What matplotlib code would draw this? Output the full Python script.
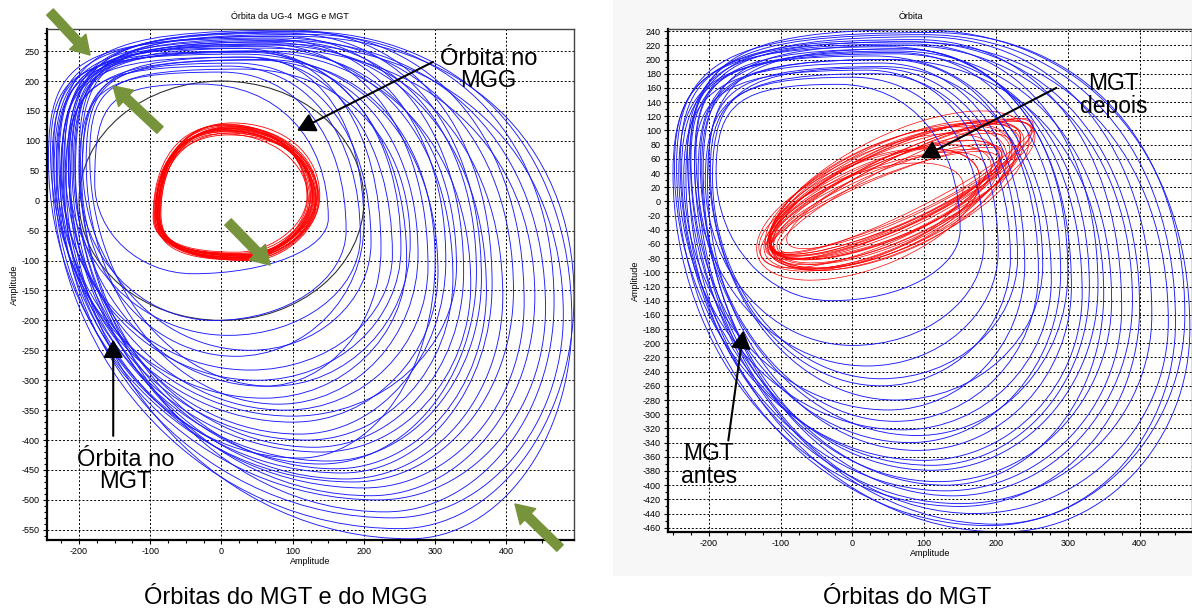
import matplotlib
matplotlib.use("Agg")
import matplotlib.pyplot as plt
from matplotlib.path import Path
from matplotlib.patches import PathPatch, Ellipse, Circle, Rectangle, FancyArrowPatch
from matplotlib.ticker import MultipleLocator

plt.rcParams['font.family'] = ['Liberation Sans', 'DejaVu Sans']
plt.rcParams['axes.unicode_minus'] = False

# ---- data (amplitude units) ----
# each loop: (left x, y at left, x at top, top y, right x, y at right, x at bottom, bottom y)
mgt_loops_left = [
    (-178, 30, -30, 195, 150, -30, -40, -122),
    (-200, 40, 0, 215, 175, -50, -10, -200),
    (-215, 50, 10, 225, 195, -60, 10, -225),
    (-195, 60, 20, 230, 210, -70, 40, -250),
    (-225, 45, 30, 240, 240, -90, 40, -283),
    (-208, 55, 40, 250, 224, -80, 60, -310),
    (-232, 35, 20, 255, 260, -100, 60, -330),
    (-190, 65, 50, 235, 276, -90, 80, -340),
    (-220, 70, 60, 262, 290, -110, 90, -350),
    (-240, 80, 30, 245, 304, -120, 100, -370),
    (-212, 40, 70, 270, 315, -100, 110, -390),
    (-228, 60, 50, 258, 325, -130, 120, -400),
    (-205, 50, 80, 275, 340, -120, 130, -412),
    (-236, 75, 40, 250, 350, -140, 140, -420),
    (-218, 30, 90, 280, 365, -130, 150, -435),
    (-198, 55, 60, 265, 372, -150, 160, -448),
    (-230, 45, 100, 285, 380, -140, 170, -455),
    (-215, 65, 70, 260, 395, -160, 175, -465),
    (-243, 70, 80, 272, 410, -150, 185, -470),
    (-222, 40, 110, 282, 425, -170, 200, -480),
    (-210, 60, 60, 255, 440, -160, 210, -493),
    (-235, 50, 90, 268, 455, -180, 220, -500),
    (-200, 70, 120, 278, 467, -170, 230, -520),
    (-226, 35, 80, 262, 480, -190, 240, -530),
    (-238, 55, 100, 275, 495, -160, 250, -548),
    (-214, 45, 110, 283, 492, -200, 265, -565),
    (-185, 75, 30, 220, 265, -70, 70, -310),
    (-196, 35, 40, 240, 200, -40, 20, -260),
    (-232, 65, 70, 250, 330, -110, 100, -360),
    (-220, 20, 60, 236, 300, -100, 110, -430),
    (-224, 50, 40, 248, 252, -80, 50, -300),
    (-206, 60, 90, 266, 358, -120, 140, -440),
]
mgg_loops_left = [
    (-95, -25, 5, 118, 128, 5, 30, -92),
    (-92, -20, 10, 125, 135, 10, 35, -96),
    (-90, -30, 0, 112, 122, 0, 25, -88),
    (-88, -15, 15, 130, 138, 8, 40, -100),
    (-93, -22, 8, 120, 130, 3, 28, -94),
    (-86, -28, 12, 122, 126, 12, 33, -90),
    (-91, -18, 3, 115, 133, -2, 38, -98),
    (-89, -24, 6, 128, 120, 6, 22, -86),
    (-94, -26, 10, 110, 136, 4, 30, -95),
    (-87, -20, 0, 118, 125, 9, 36, -93),
    (-90, -32, 14, 124, 131, 1, 27, -99),
    (-92, -16, 7, 116, 127, 7, 32, -91),
    (-85, -22, 9, 121, 134, 11, 24, -97),
    (-96, -28, 2, 126, 124, -1, 39, -89),
    (-88, -25, 11, 113, 129, 5, 31, -94),
    (-91, -19, 5, 119, 137, 2, 29, -96),
    (-89, -21, 13, 123, 121, 8, 34, -92),
    (-93, -27, 4, 117, 132, 3, 26, -90),
    (-90, -23, 8, 121, 128, 6, 30, -95),
    (-87, -29, 6, 127, 133, 4, 35, -99),
]
orbit_circle_radius = 200

mgt_antes_loops = [
    (-190, 40, -20, 165, 150, -40, -30, -140),
    (-205, 30, 0, 175, 183, -60, 0, -203),
    (-220, 50, 20, 185, 203, -70, 20, -232),
    (-198, 45, 30, 180, 220, -80, 40, -260),
    (-235, 35, 40, 195, 240, -90, 50, -294),
    (-212, 55, 50, 200, 259, -100, 60, -310),
    (-242, 40, 30, 205, 277, -110, 70, -322),
    (-225, 60, 60, 210, 290, -100, 80, -340),
    (-202, 30, 70, 215, 305, -120, 90, -351),
    (-248, 50, 50, 218, 320, -130, 100, -365),
    (-230, 65, 80, 222, 342, -120, 110, -379),
    (-215, 40, 60, 212, 361, -140, 120, -395),
    (-240, 55, 90, 228, 375, -150, 130, -408),
    (-208, 45, 70, 220, 390, -140, 140, -415),
    (-232, 35, 100, 232, 417, -160, 150, -426),
    (-220, 60, 80, 225, 440, -170, 170, -440),
    (-245, 50, 110, 238, 463, -160, 190, -457),
    (-228, 40, 90, 242, 470, -180, 210, -466),
    (-200, 55, 40, 190, 265, -90, 60, -280),
    (-238, 45, 60, 208, 330, -120, 110, -372),
    (-218, 70, 70, 215, 300, -100, 90, -330),
    (-250, 40, 80, 225, 400, -150, 150, -430),
    (-210, 50, 50, 200, 350, -130, 130, -400),
    (-226, 65, 100, 235, 450, -170, 200, -455),
    (-195, 35, 30, 188, 230, -80, 40, -250),
]
# each loop: (centre x, centre y, full length, full width, tilt in degrees)
mgt_depois_loops = [
    (55, 8, 370, 150, 24), (60, 12, 390, 130, 25), (45, 2, 345, 110, 23),
    (65, 15, 395, 160, 26), (40, -2, 335, 90, 22), (70, 18, 400, 120, 24),
    (52, 6, 370, 140, 25), (48, 3, 350, 80, 23), (62, 14, 380, 100, 26),
    (35, -8, 340, 125, 23), (75, 22, 395, 70, 27), (42, 0, 350, 145, 23),
    (58, 16, 385, 115, 25), (55, 10, 365, 95, 24), (30, -10, 310, 135, 21),
    (80, 25, 380, 85, 26), (50, 4, 355, 155, 24), (45, -2, 340, 75, 22),
    (62, 12, 375, 130, 25), (36, -6, 320, 105, 21), (72, 18, 392, 90, 26),
    (53, 9, 360, 120, 24), (22, -18, 330, 150, 22), (12, -22, 300, 120, 20),
    (47, 2, 348, 65, 23), (58, 13, 376, 140, 25), (40, -4, 365, 110, 24),
    (66, 16, 410, 100, 25),
]

# Bezier handle ratios per quadrant: top-left, top-right, bottom-right, bottom-left
k_mgt = (0.85, 0.6, 0.55, 0.55)
k_mgg = (0.62, 0.58, 0.5, 0.7)
k_antes = (0.8, 0.6, 0.55, 0.55)


def orbit_patch(loop, k, color, lw):
    xl, yl, xt, yt, xr, yr, xb, yb = loop
    k_tl, k_tr, k_br, k_bl = k
    verts = [
        (xl, yl),
        (xl, yl + k_tl * (yt - yl)), (xt - k_tl * (xt - xl), yt), (xt, yt),
        (xt + k_tr * (xr - xt), yt), (xr, yr + k_tr * (yt - yr)), (xr, yr),
        (xr, yr - k_br * (yr - yb)), (xb + k_br * (xr - xb), yb), (xb, yb),
        (xb - k_bl * (xb - xl), yb), (xl, yl - k_bl * (yl - yb)), (xl, yl),
    ]
    codes = [Path.MOVETO] + [Path.CURVE4] * 12
    return PathPatch(Path(verts, codes), fill=False, edgecolor=color, lw=lw)


def style_axes(ax, xlim, ylim, ystep):
    ax.set_xlim(xlim)
    ax.set_ylim(ylim)
    ax.xaxis.set_major_locator(MultipleLocator(100))
    ax.xaxis.set_minor_locator(MultipleLocator(25))
    ax.yaxis.set_major_locator(MultipleLocator(ystep))
    ax.yaxis.set_minor_locator(MultipleLocator(10))
    ax.grid(True, which='major', color='black', linestyle=(0, (2, 2)), lw=0.7)
    ax.set_axisbelow(True)
    ax.tick_params(which='both', direction='out', labelsize=6.5, width=0.8, pad=2)
    ax.tick_params(which='major', length=3)
    ax.tick_params(which='minor', length=2)
    for side in ['left', 'bottom']:
        ax.spines[side].set_linewidth(1.6)
        ax.spines[side].set_color('black')
    for side in ['top', 'right']:
        ax.spines[side].set_linewidth(1.0)
        ax.spines[side].set_color('#444444')
    ax.set_xlabel('Amplitude', fontsize=6.5, labelpad=1)
    ax.set_ylabel('Amplitude', fontsize=6.5, labelpad=2)


W, H = 1192, 615
fig = plt.figure(figsize=(W / 100, H / 100), dpi=100)
fig.add_artist(Rectangle((613 / W, 1 - 575 / H), (W - 613) / W, 575 / H,
                         transform=fig.transFigure, color='#f7f7f7', zorder=-1))

# left panel
ax1 = fig.add_axes([47 / W, 1 - 540 / H, (574 - 47) / W, (540 - 29) / H])
style_axes(ax1, (-245, 495), (-567, 287), 50)
ax1.add_patch(Circle((0, 0), orbit_circle_radius, fill=False, ec='#333333', lw=0.8))
for loop in mgg_loops_left:
    ax1.add_patch(orbit_patch(loop, k_mgg, '#ff0000', 0.6))
for loop in mgt_loops_left:
    ax1.add_patch(orbit_patch(loop, k_mgt, '#1a1aff', 0.65))
ax1.text(0.46, 1.015, 'Órbita da UG-4  MGG e MGT', transform=ax1.transAxes,
         ha='center', va='bottom', fontsize=6.5)

arrow_kw = dict(arrowstyle='-|>,head_length=0.55,head_width=0.3', color='black',
                lw=1.5, mutation_scale=20, shrinkA=0, shrinkB=0)
ax1.annotate('', xy=(106, 117), xytext=(297, 232), arrowprops=arrow_kw)
ax1.text(375, 218, 'Órbita no\nMGG', ha='center', va='center', fontsize=17,
         linespacing=1.0)
ax1.annotate('', xy=(-152, -232), xytext=(-152, -393), arrowprops=arrow_kw)
ax1.text(-135, -452, 'Órbita no\nMGT', ha='center', va='center', fontsize=17,
         linespacing=1.0)

# right panel
ax2 = fig.add_axes([668 / W, 1 - 532 / H, (W - 668) / W, (532 - 29) / H])
style_axes(ax2, (-257, 473), (-466, 243), 20)
for cx, cy, w, h, ang in mgt_depois_loops:
    ax2.add_patch(Ellipse((cx, cy), w, h, angle=ang, fill=False, ec='#ff0000', lw=0.5))
for loop in mgt_antes_loops:
    ax2.add_patch(orbit_patch(loop, k_antes, '#1a1aff', 0.65))
ax2.text(0.464, 1.015, 'Órbita', transform=ax2.transAxes,
         ha='center', va='bottom', fontsize=6.5)
ax2.annotate('', xy=(95, 61), xytext=(284, 160), arrowprops=arrow_kw)
ax2.text(364, 150, 'MGT\ndepois', ha='center', va='center', fontsize=16.5,
         linespacing=1.0)
ax2.annotate('', xy=(-152, -182), xytext=(-173, -337), arrowprops=arrow_kw)
ax2.text(-200, -372, 'MGT\nantes', ha='center', va='center', fontsize=16.5,
         linespacing=1.0)

# green marker arrows (figure pixels, tail -> tip)
green = '#77933c'
for (x0, y0), (x1, y1) in [((50, 12), (90, 55)), ((160, 130), (113, 86)),
                           ((228, 222), (270, 265)), ((560, 548), (515, 504))]:
    fig.add_artist(FancyArrowPatch(
        (x0 / W, 1 - y0 / H), (x1 / W, 1 - y1 / H), transform=fig.transFigure,
        arrowstyle='simple,head_length=1.3,head_width=1.6,tail_width=0.65',
        mutation_scale=10, color=green, shrinkA=0, shrinkB=0, zorder=10))

fig.text(286 / W, 1 - 598 / H, 'Órbitas do MGT e do MGG', ha='center', va='center', fontsize=17)
fig.text(907 / W, 1 - 598 / H, 'Órbitas do MGT', ha='center', va='center', fontsize=17)

fig.savefig('out.png', dpi=100)
